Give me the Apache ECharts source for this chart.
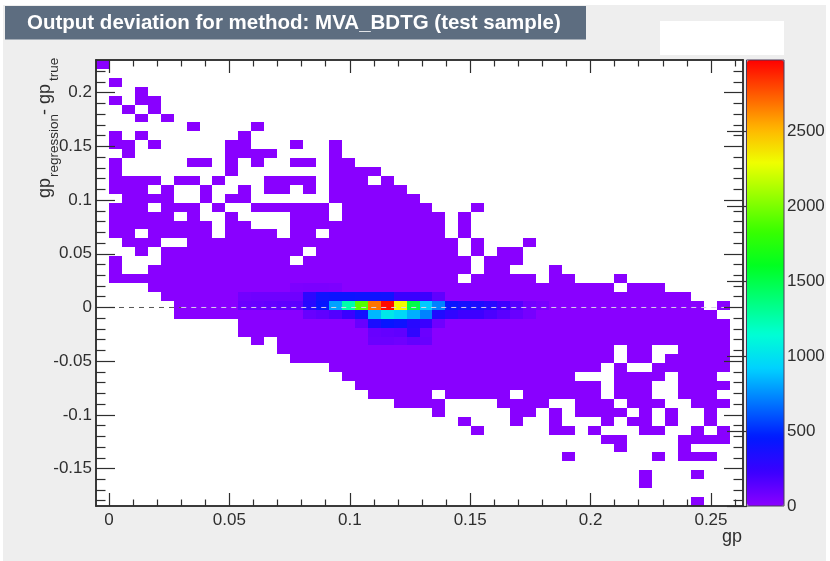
<!DOCTYPE html>
<html><head><meta charset="utf-8">
<style>html,body{margin:0;padding:0;background:#fff}#c{width:830px;height:561px}</style>
<script src="https://cdn.jsdelivr.net/npm/echarts@6/dist/echarts.min.js"></script>
</head><body><div id="c"></div>
<script>
const titleText = 'Output deviation for method: MVA_BDTG (test sample)';
const xTickLabels = [0, 0.05, 0.1, 0.15, 0.2, 0.25];
const yTickLabels = [-0.15, -0.1, -0.05, 0, 0.05, 0.1, 0.15, 0.2];
const xMinorTicks = [0.01,0.02,0.03,0.04,0.06,0.07,0.08,0.09,0.11,0.12,0.13,0.14,0.16,0.17,0.18,0.19,0.21,0.22,0.23,0.24,0.26];
const yMinorTicks = [-0.18,-0.17,-0.16,-0.14,-0.13,-0.12,-0.11,-0.09,-0.08,-0.07,-0.06,-0.04,-0.03,-0.02,-0.01,0.01,0.02,0.03,0.04,0.06,0.07,0.08,0.09,0.11,0.12,0.13,0.14,0.16,0.17,0.18,0.19,0.21,0.22];
const zTickLabels = [0, 500, 1000, 1500, 2000, 2500];
const xRange = [-0.0054, 0.2633];
const yRange = [-0.1849, 0.2305];
const zMax = 2973;
const paletteStops = ['#8b00ff','#3a00ff','#0019ff','#0075ff','#00d1ff','#00ffd4','#00ff7a','#00ff21','#38ff00','#94ff00','#efff00','#ffb500','#ff5a00','#ff0000'];
const lowCount = 5;
// occupied bins per row (top row first), as [firstColumn, lastColumn]
const occupiedRows = [
[[0,0]],[],[[1,1]],[[3,3]],[[1,1],[3,4]],[[2,2],[4,4]],[[3,3],[5,5]],[[7,7],[12,12]],
[[1,1],[3,3],[11,11]],
[[1,2],[4,4],[10,11],[15,15],[18,18]],
[[2,2],[10,13],[18,18]],
[[1,1],[7,8],[10,10],[12,12],[15,16],[18,19]],
[[1,1],[10,10],[18,21]],
[[1,4],[6,7],[9,9],[13,16],[18,20],[22,22]],
[[1,3],[5,5],[8,8],[11,11],[13,14],[16,16],[18,23]],
[[2,5],[8,8],[10,11],[18,24]],
[[1,3],[5,7],[9,9],[12,17],[19,25],[29,29]],
[[1,5],[7,7],[10,10],[15,17],[19,26],[28,28]],
[[1,8],[10,11],[15,26],[28,28]],
[[1,2],[4,8],[10,13],[15,16],[18,26],[28,28]],
[[2,4],[7,27],[29,29],[33,33]],
[[3,3],[5,15],[17,27],[29,29],[31,32]],
[[1,1],[5,14],[16,28],[30,32]],
[[1,1],[4,28],[30,31],[35,35]],
[[1,27],[29,33],[35,36],[40,40]],
[[4,39],[41,43]],
[[5,45]],
[[6,46],[48,48]],
[[6,47]],
[[11,48]],
[[11,48]],
[[12,12],[14,48]],
[[14,39],[41,42],[45,48]],
[[15,39],[41,42],[44,48]],
[[18,38],[40,40],[43,48]],
[[19,36],[40,43],[45,47]],
[[20,38],[40,42],[45,48]],
[[21,25],[27,31],[33,38],[40,42],[45,47]],
[[23,26],[31,34],[37,39],[41,43],[46,48]],
[[26,26],[32,33],[35,35],[37,40],[42,42],[44,44],[47,47]],
[[28,28],[32,32],[35,35],[39,39],[41,42],[44,44],[47,47]],
[[29,29],[35,36],[38,38],[42,43],[46,46],[48,48]],
[[39,40],[45,48]],
[[40,40],[45,45]],
[[36,36],[43,43],[45,47]],
[],
[[42,42],[46,46]],
[[42,42]],
[],
[[46,46]]
];
// bins with a readable colour: [row, firstColumn, values...]
const denseRows = [
[25,15,40,45,45,40],
[26,11,70,80,80,80,80,280,400,410,410,400,400,390,230,230,220,120],
[27,11,90,100,110,120,130,300,430,800,1250,1900,2680,2950,2300,1500,900,720,420,380,350,300,220,150,70,50],
[28,16,100,120,160,230,380,850,1030,950,830,720,330,270,220,220,180,140,100,60],
[29,20,100,350,430,400,300,230,80],
[30,21,100,110,120,270,90],
[31,21,90,90,80,110,100]
];

const binCount = 50;
const bins = Array.from({length: binCount}, (_, i) => String(i));
const cells = new Map();
occupiedRows.forEach((runs, r) => runs.forEach(([a, b]) => {
  for (let c = a; c <= b; c++) cells.set(r + ':' + c, lowCount);
}));
denseRows.forEach(([r, start, ...vals]) => vals.forEach((v, k) => cells.set(r + ':' + (start + k), v)));
const heatData = [...cells].map(([k, v]) => { const [r, c] = k.split(':').map(Number); return [c, binCount - 1 - r, v]; });

const font = '"Liberation Sans", Arial, sans-serif';
const ink = '#2e2e2e';
const valueAxis = (dim, pos, range, ticks, len, labels) => ({
  type: 'value', gridIndex: 0, position: pos, min: range[0], max: range[1], z: 5,
  splitLine: {show: false}, scale: true,
  axisLine: {show: true, onZero: false, lineStyle: {color: ink, width: 1.5}},
  axisTick: {show: true, inside: true, length: len, customValues: ticks, lineStyle: {color: ink, width: 1.2}},
  axisLabel: labels ? {show: true, customValues: labels, color: ink, fontFamily: font, fontSize: 17, margin: dim === 'x' ? 6 : 4,
    formatter: v => String(v)} : {show: false}
});

const renderBin = (params, api) => {
  const c = api.coord([api.value(0), api.value(1)]);
  const s = api.size([1, 1]);
  const x0 = Math.round(c[0] - s[0] / 2), x1 = Math.round(c[0] + s[0] / 2);
  const y0 = Math.round(c[1] - s[1] / 2), y1 = Math.round(c[1] + s[1] / 2);
  return {type: 'rect', shape: {x: x0, y: y0, width: x1 - x0, height: y1 - y0}, style: {fill: api.visual('color')}};
};

const chart = echarts.init(document.getElementById('c'), null, {renderer: 'canvas'});
chart.setOption({
  animation: false,
  backgroundColor: '#ffffff',
  grid: [
    {left: 96, right: 87, top: 60, bottom: 55, backgroundColor: '#fff', show: true, borderWidth: 0, z: 1},
    {left: 747, width: 37, top: 60, bottom: 55, show: false}
  ],
  xAxis: [
    {type: 'category', gridIndex: 0, data: bins, show: false},
    valueAxis('x', 'bottom', xRange, xTickLabels, 13, xTickLabels),
    valueAxis('x', 'bottom', xRange, xMinorTicks, 6.5, null),
    valueAxis('x', 'top', xRange, xTickLabels, 13, null),
    valueAxis('x', 'top', xRange, xMinorTicks, 6.5, null),
    {type: 'value', gridIndex: 1, show: false, min: 0, max: 1}
  ],
  yAxis: [
    {type: 'category', gridIndex: 0, data: bins, show: false},
    valueAxis('y', 'left', yRange, yTickLabels, 19, yTickLabels),
    valueAxis('y', 'left', yRange, yMinorTicks, 9.5, null),
    valueAxis('y', 'right', yRange, yTickLabels, 19, null),
    valueAxis('y', 'right', yRange, yMinorTicks, 9.5, null),
    {type: 'value', gridIndex: 1, position: 'right', min: 0, max: zMax, z: 6,
      splitLine: {show: false},
      axisLine: {show: false},
      axisTick: {show: true, inside: true, length: 20, customValues: zTickLabels, lineStyle: {color: ink, width: 1.2}},
      axisLabel: {show: true, customValues: zTickLabels, color: ink, fontFamily: font, fontSize: 17, margin: 3, formatter: v => String(v)}}
  ],
  visualMap: {
    type: 'continuous', seriesIndex: 0, dimension: 2, min: 0, max: zMax, calculable: false, realtime: false,
    left: 747, top: 60, itemWidth: 37, itemHeight: 446, orient: 'vertical', text: ['', ''], padding: 0, z: 4,
    borderRadius: 0, inRange: {color: paletteStops}, hoverLink: false
  },
  series: [
    {type: 'custom', xAxisIndex: 0, yAxisIndex: 0, data: heatData, z: 2, renderItem: renderBin, encode: {x: 0, y: 1}, silent: true, clip: true},
    {type: 'line', xAxisIndex: 1, yAxisIndex: 1, data: [[0, 0], [0.03, 0]], symbol: 'none', z: 3, silent: true,
      lineStyle: {color: '#555', width: 1, type: [5, 5]}},
    {type: 'line', xAxisIndex: 1, yAxisIndex: 1, data: [[0.03, 0], [xRange[1], 0]], symbol: 'none', z: 3, silent: true,
      lineStyle: {color: '#d8d0e8', width: 1, type: [5, 5]}}
  ],
  graphic: [
    {type: 'rect', x: 3, y: 5, shape: {width: 823, height: 556}, style: {fill: '#eeeeee'}, z: -1, zlevel: 0, silent: true},
    {type: 'rect', x: 5, y: 6, shape: {width: 581, height: 33.5}, style: {fill: '#5d6d80'}, z: 10},
    {type: 'rect', x: 660, y: 21, shape: {width: 124, height: 34}, style: {fill: '#ffffff'}, z: 10},
    {type: 'rect', x: 746.5, y: 60, shape: {width: 37.5, height: 446}, style: {fill: 'none', stroke: '#4a3a5a', lineWidth: 1}, z: 7},
    {type: 'text', x: 27, y: 23, z: 11, style: {text: titleText, fill: '#fff', font: 'bold 20.5px ' + font, textVerticalAlign: 'middle'}},
    {type: 'text', x: 722, y: 537, z: 11, style: {text: 'gp', fill: ink, font: '18px ' + font, textVerticalAlign: 'middle'}},
    {type: 'text', x: 45, y: 198, rotation: Math.PI / 2, z: 11, style: {text: 'gp', fill: ink, font: '18px ' + font, textVerticalAlign: 'middle'}},
    {type: 'text', x: 54, y: 177, rotation: Math.PI / 2, z: 11, style: {text: 'regression', fill: ink, font: '13.5px ' + font, textVerticalAlign: 'middle'}},
    {type: 'text', x: 45, y: 115, rotation: Math.PI / 2, z: 11, style: {text: '- gp', fill: ink, font: '18px ' + font, textVerticalAlign: 'middle'}},
    {type: 'text', x: 54, y: 81, rotation: Math.PI / 2, z: 11, style: {text: 'true', fill: ink, font: '13.5px ' + font, textVerticalAlign: 'middle'}}
  ]
});
</script></body></html>
